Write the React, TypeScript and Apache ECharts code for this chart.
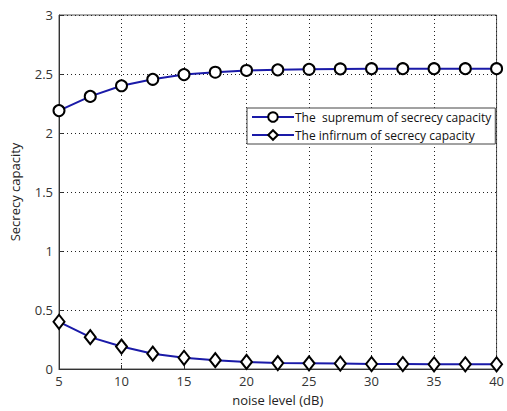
import React, { useEffect, useRef } from "react";
import * as echarts from "echarts";

const noiseLevels = [5, 7.5, 10, 12.5, 15, 17.5, 20, 22.5, 25, 27.5, 30, 32.5, 35, 37.5, 40];
const supremum = [2.19, 2.31, 2.4, 2.455, 2.495, 2.515, 2.53, 2.535, 2.54, 2.543, 2.545, 2.545, 2.545, 2.545, 2.545];
const infimum = [0.4, 0.27, 0.19, 0.13, 0.095, 0.075, 0.06, 0.05, 0.048, 0.046, 0.042, 0.042, 0.04, 0.04, 0.04];
const seriesNames = ["The  supremum of secrecy capacity", "The infirnum of secrecy capacity"];

const FONT = "Open Sans";

export default function App() {
  const ref = useRef<HTMLDivElement>(null);
  useEffect(() => {
    const chart = echarts.init(ref.current!, null, { renderer: "svg" });
    const pairs = (ys: number[]) => noiseLevels.map((x, i) => [x, ys[i]]);
    const axisCommon = {
      axisLine: { show: true, lineStyle: { color: "#333", width: 1 } },
      axisTick: { show: true, inside: true, length: 4, lineStyle: { color: "#333" } },
      axisLabel: { color: "#333", fontSize: 13, fontFamily: FONT },
      splitLine: { show: true, lineStyle: { color: "#222", type: [1, 3], width: 1 } },
    };
    chart.setOption({
      animation: false,
      backgroundColor: "#fff",
      textStyle: { fontFamily: FONT },
      grid: { left: 56, right: 7, top: 15, bottom: 38, show: true, borderColor: "#555", borderWidth: 1, containLabel: false },
      xAxis: {
        type: "value",
        min: 5,
        max: 40,
        interval: 5,
        name: "noise level (dB)",
        nameLocation: "middle",
        nameGap: 24,
        nameTextStyle: { color: "#222", fontSize: 13, fontFamily: FONT },
        ...axisCommon,
        axisLabel: { ...axisCommon.axisLabel, margin: 5 },
      },
      yAxis: {
        type: "value",
        min: 0,
        max: 3,
        interval: 0.5,
        name: "Secrecy capacity",
        nameLocation: "middle",
        nameGap: 38,
        nameTextStyle: { color: "#222", fontSize: 13, fontFamily: FONT },
        ...axisCommon,
        axisLabel: { ...axisCommon.axisLabel, margin: 6 },
      },
      legend: {
        orient: "vertical",
        left: 247,
        top: 108,
        padding: [3, 4, 3, 4],
        itemGap: 6,
        itemWidth: 42,
        itemHeight: 12,
        backgroundColor: "#fff",
        borderColor: "#444",
        borderWidth: 1,
        borderRadius: 0,
        textStyle: { color: "#111", fontSize: 12, fontFamily: FONT, padding: [0, 0, 0, -4] },
        data: seriesNames,
      },
      series: [
        {
          name: seriesNames[0],
          type: "line",
          data: pairs(supremum),
          symbol: "circle",
          symbolSize: 11,
          lineStyle: { color: "#1a1aa8", width: 2 },
          itemStyle: { color: "#fff", borderColor: "#000", borderWidth: 2 },
        },
        {
          name: seriesNames[1],
          type: "line",
          data: pairs(infimum),
          symbol: "diamond",
          symbolSize: [11, 14],
          lineStyle: { color: "#1a1aa8", width: 2 },
          itemStyle: { color: "#fff", borderColor: "#000", borderWidth: 2 },
        },
      ],
    });
    return () => chart.dispose();
  }, []);
  return <div ref={ref} style={{ position: "fixed", left: 0, top: 0, width: 507, height: 411 }} />;
}
